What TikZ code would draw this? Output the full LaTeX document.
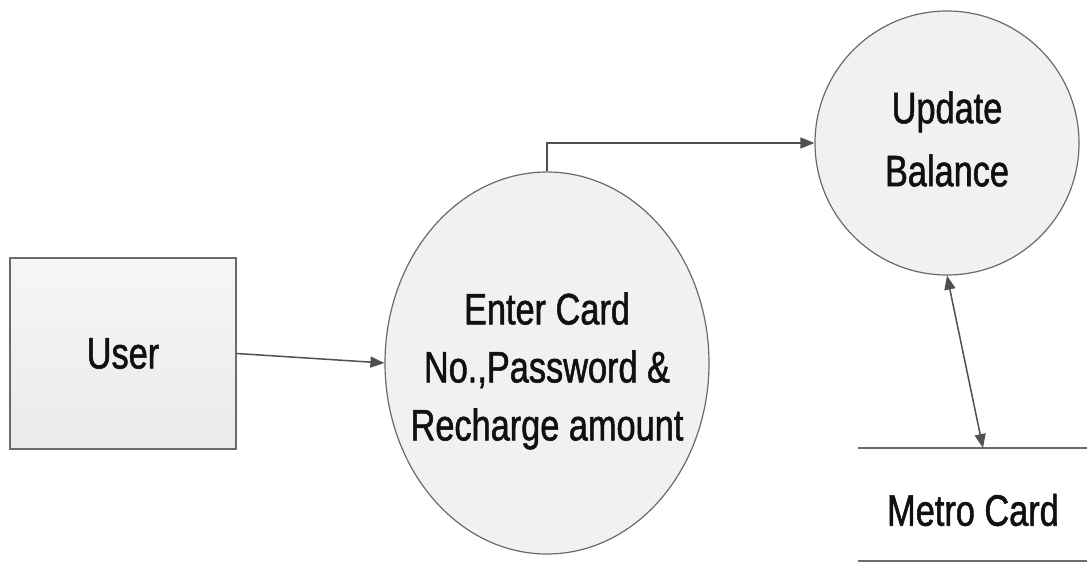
\documentclass[tikz,border=0pt]{standalone}
\usepackage{fontspec}
\setmainfont{Liberation Sans}[FakeStretch=0.78,FakeBold=1.2]
\usetikzlibrary{arrows.meta,shapes.geometric}
\definecolor{edgegray}{HTML}{6A6A6A}
\definecolor{arrowgray}{HTML}{505050}
\definecolor{procfill}{HTML}{F1F1F1}
\definecolor{boxtop}{HTML}{F6F6F6}
\definecolor{boxbot}{HTML}{EAEAEA}
\definecolor{txt}{HTML}{101010}
\tikzset{
  entitybox/.style={rectangle, draw=edgegray, line width=1.4pt, top color=boxtop, bottom color=boxbot,
    minimum width=226pt, minimum height=191pt, inner sep=0pt, text=txt, font=\fontsize{44}{58}\selectfont},
  procnode/.style={draw=edgegray, line width=1.2pt, fill=procfill, inner sep=0pt},
  proctext/.style={inner sep=0pt, text=txt, align=center, font=\fontsize{44}{58}\selectfont},
  storeline/.style={draw=edgegray, line width=1.4pt},
  storetext/.style={inner sep=0pt, text=txt, font=\fontsize{44}{58}\selectfont},
  flow/.style={draw=arrowgray, line width=1.5pt, -{Triangle[length=14pt,width=11pt]}},
  flowboth/.style={draw=arrowgray, line width=1.5pt, {Triangle[length=14pt,width=11pt]}-{Triangle[length=14pt,width=11pt]}}
}
\begin{document}
\begin{tikzpicture}[x=1pt,y=-1pt]
\useasboundingbox[fill=white] (0,0) rectangle (1087,563);
\node[entitybox] (user) at (123,353.5) {User};
\node[procnode, ellipse, minimum width=324pt, minimum height=382pt] (ent) at (547,363) {};
\node[proctext] (enttext) at (547,371) {Enter Card\\No.,Password \&\\Recharge amount};
\node[procnode, circle, minimum size=264pt] (upd) at (947,143) {};
\node[proctext, font=\fontsize{44}{63}\selectfont] (updtext) at (947,139) {Update\\Balance};
\coordinate (stl) at (858,448);
\coordinate (str) at (1087,448);
\coordinate (sbl) at (858,561);
\coordinate (sbr) at (1087,561);
\coordinate (storein) at (983,448);
\node[storetext] (store) at (973,510) {Metro Card};
\draw[storeline] (stl) -- (str);
\draw[storeline] (sbl) -- (sbr);
\draw[flow] (user.east) -- (ent.west);
\draw[flow] (ent.north) |- (upd.west);
\draw[flowboth] (upd.south) -- (storein);
\end{tikzpicture}
\end{document}
